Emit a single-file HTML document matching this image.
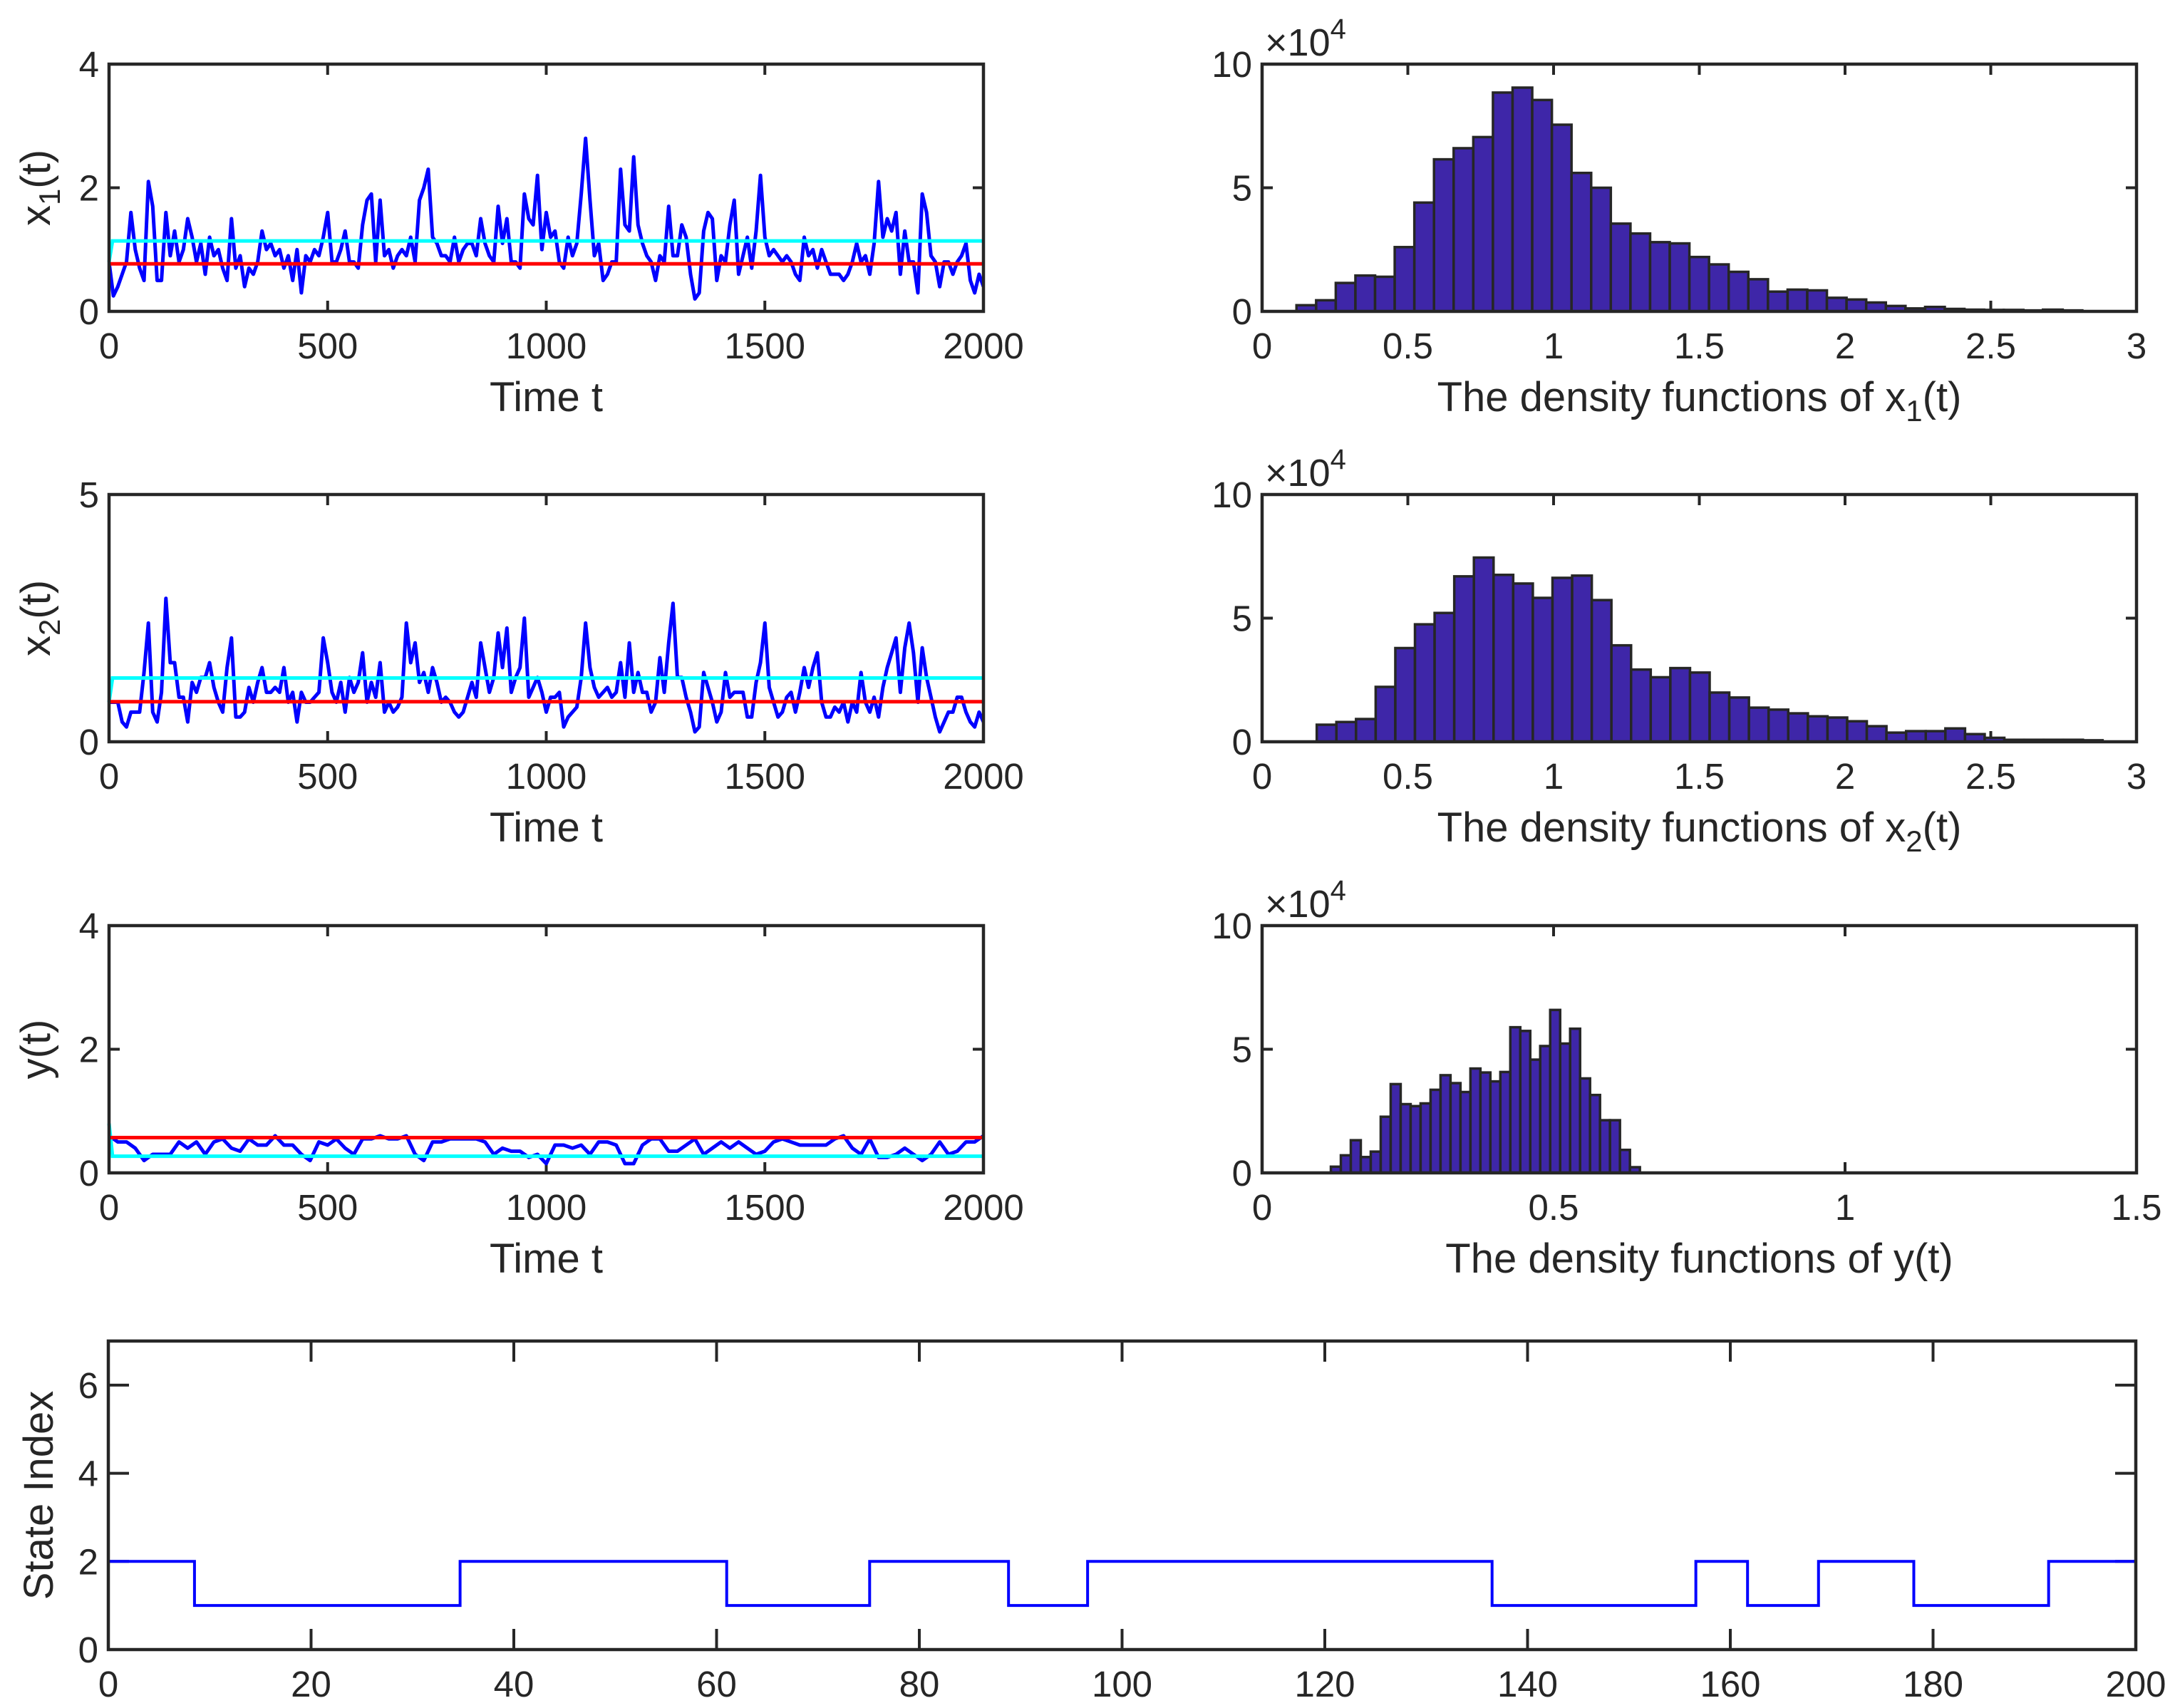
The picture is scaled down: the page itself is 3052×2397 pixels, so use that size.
<!DOCTYPE html>
<html><head><meta charset="utf-8"><style>
html,body{margin:0;padding:0;background:#fff;}
svg{display:block;font-family:"Liberation Sans",sans-serif;}
</style></head><body>
<svg id="fig" width="3052" height="2397" viewBox="0 0 3052 2397" xmlns="http://www.w3.org/2000/svg"></svg>
<script>
// ---------- data ----------
const tsStep = 10;
const x1Values = [0.8,0.25,0.4,0.6,0.8,1.6,1.0,0.7,0.5,2.1,1.7,
0.5,0.5,1.6,0.9,1.3,0.8,1.0,1.5,1.2,0.8,
1.1,0.6,1.2,0.9,1.0,0.7,0.5,1.5,0.7,0.9,
0.4,0.7,0.6,0.8,1.3,1.0,1.1,0.9,1.0,0.7,
0.9,0.5,1.0,0.3,0.9,0.8,1.0,0.9,1.2,1.6,
0.8,0.8,1.0,1.3,0.8,0.8,0.7,1.4,1.8,1.9,
0.8,1.8,0.9,1.0,0.7,0.9,1.0,0.9,1.2,0.8,
1.8,2.0,2.3,1.2,1.1,0.9,0.9,0.8,1.2,0.8,
1.0,1.1,1.1,0.9,1.5,1.1,0.9,0.8,1.7,1.1,
1.5,0.8,0.8,0.7,1.9,1.5,1.4,2.2,1.0,1.6,
1.2,1.3,0.8,0.7,1.2,0.9,1.1,1.9,2.8,1.8,
0.9,1.1,0.5,0.6,0.8,0.8,2.3,1.4,1.3,2.5,
1.4,1.1,0.9,0.8,0.5,0.9,0.8,1.7,0.9,0.9,
1.4,1.2,0.6,0.2,0.3,1.3,1.6,1.5,0.5,0.9,
0.8,1.4,1.8,0.6,0.9,1.2,0.7,1.3,2.2,1.2,
0.9,1.0,0.9,0.8,0.9,0.8,0.6,0.5,1.2,0.9,
1.0,0.7,1.0,0.8,0.6,0.6,0.6,0.5,0.6,0.8,
1.1,0.8,0.9,0.6,1.1,2.1,1.2,1.5,1.3,1.6,
0.6,1.3,0.8,0.8,0.3,1.9,1.6,0.9,0.8,0.4,
0.8,0.8,0.6,0.8,0.9,1.1,0.5,0.3,0.6,0.4];
const x2Values = [0.8,0.8,0.8,0.4,0.3,0.6,0.6,0.6,1.4,2.4,0.6,
0.4,1.0,2.9,1.6,1.6,0.9,0.9,0.4,1.2,1.0,
1.3,1.3,1.6,1.1,0.8,0.6,1.5,2.1,0.5,0.5,
0.6,1.1,0.8,1.2,1.5,1.0,1.0,1.1,1.0,1.5,
0.8,1.0,0.4,1.0,0.8,0.8,0.9,1.0,2.1,1.6,
1.0,0.8,1.2,0.6,1.3,1.0,1.2,1.8,0.8,1.2,
0.9,1.6,0.6,0.8,0.6,0.7,0.9,2.4,1.6,2.0,
1.2,1.4,1.0,1.5,1.2,0.8,0.9,0.8,0.6,0.5,
0.6,0.9,1.2,0.9,2.0,1.5,1.0,1.3,2.2,1.5,
2.3,1.0,1.3,1.5,2.5,0.9,1.1,1.3,1.0,0.6,
0.9,0.9,1.0,0.3,0.5,0.6,0.7,1.3,2.4,1.5,
1.1,0.9,1.0,1.1,0.9,1.0,1.6,0.9,2.0,1.0,
1.4,1.0,1.0,0.6,0.8,1.7,1.0,2.0,2.8,1.3,
1.3,0.9,0.6,0.2,0.3,1.4,1.1,0.8,0.4,0.6,
1.4,0.9,1.0,1.0,1.0,0.5,0.5,1.2,1.6,2.4,
1.1,0.8,0.5,0.6,0.9,1.0,0.6,1.0,1.5,1.1,
1.5,1.8,0.8,0.5,0.5,0.7,0.6,0.8,0.4,0.8,
0.6,1.4,0.8,0.6,0.9,0.5,1.1,1.5,1.8,2.1,
1.0,1.9,2.4,1.8,0.8,1.9,1.3,0.9,0.5,0.2,
0.4,0.6,0.6,0.9,0.9,0.6,0.4,0.3,0.6,0.4];
const yStep = 20;
const yValues = [0.6,0.5,0.5,0.4,0.2,0.3,0.3,0.3,0.5,0.4,0.5,0.3,0.5,0.55,0.4,0.35,0.55,0.45,0.45,0.6,
0.45,0.45,0.3,0.2,0.5,0.45,0.55,0.4,0.3,0.55,0.55,0.6,0.55,0.55,0.6,0.3,0.2,0.5,0.5,0.55,
0.55,0.55,0.55,0.5,0.3,0.4,0.35,0.35,0.25,0.3,0.15,0.45,0.45,0.4,0.45,0.3,0.5,0.5,0.45,0.15,
0.15,0.45,0.55,0.55,0.35,0.35,0.45,0.55,0.3,0.4,0.5,0.4,0.5,0.4,0.3,0.35,0.5,0.55,0.5,0.45,
0.45,0.45,0.45,0.55,0.6,0.4,0.3,0.55,0.25,0.25,0.3,0.4,0.3,0.2,0.3,0.5,0.3,0.35,0.5,0.5,0.6];
const x1Cyan = [0.8, 1.14]; const x1Red = 0.77;
const x2Cyan = [0.8, 1.29]; const x2Red = 0.81;
const yCyan = [0.8, 0.27];  const yRed = 0.57;

const h1Start = 0.118, h1Width = 0.0674;
const h1Counts = [0.25,0.45,1.15,1.45,1.4,2.6,4.4,6.15,6.6,7.05,8.85,9.05,8.55,7.55,5.6,5.0,3.55,3.15,2.8,2.75,2.2,1.9,1.6,1.3,0.8,0.88,0.85,0.55,0.48,0.36,0.22,0.12,0.18,0.1,0.07,0.06,0.06,0.04,0.07,0.04];
const h2Start = 0.1875, h2Width = 0.0674;
const h2Counts = [0.69,0.8,0.92,2.22,3.79,4.75,5.21,6.69,7.45,6.75,6.4,5.82,6.63,6.72,5.73,3.9,2.92,2.61,2.98,2.8,1.99,1.79,1.38,1.3,1.15,1.03,0.98,0.83,0.63,0.37,0.43,0.43,0.54,0.31,0.16,0.08,0.08,0.08,0.08,0.06];
const h3Start = 0.118, h3Width = 0.0171;
const h3Counts = [0.25,0.71,1.32,0.64,0.86,2.27,3.59,2.78,2.7,2.81,3.36,3.95,3.63,3.27,4.22,4.06,3.7,4.08,5.89,5.74,4.58,5.13,6.59,5.23,5.83,3.82,3.15,2.13,2.13,0.93,0.23];

const stateTimes = [0,8.5,34.7,61.0,75.1,88.8,96.6,136.5,156.6,161.7,168.7,178.1,191.4,200];
const stateValues = [2,1,2,1,2,1,2,1,2,1,2,1,2];

const tsXTicks = [0,500,1000,1500,2000];
const h12XTicks = ["0","0.5","1","1.5","2","2.5","3"];
const h3XTicks = ["0","0.5","1","1.5"];
const histYTicks = [0,5,10];
const stateXTicks = [0,20,40,60,80,100,120,140,160,180,200];
const stateYTicks = [0,2,4,6];

// ---------- drawing ----------
const NS = "http://www.w3.org/2000/svg";
const svg = document.getElementById("fig");
const INK = "#262626";
function mk(tag, attrs, parent){ const e=document.createElementNS(NS,tag); for(const k in attrs) e.setAttribute(k,attrs[k]); (parent||svg).appendChild(e); return e; }
function txt(str, x, y, size, anchor, parent){ const t=mk("text",{x:x,y:y,"font-size":size,"text-anchor":anchor,fill:INK},parent); t.textContent=str; return t; }

function axesFrame(g, L, T, W, H, xTicks, xmin, xmax, yTicks, ymin, ymax, tl, xLabels){
  const X=v=>L+(v-xmin)/(xmax-xmin)*W, Y=v=>T+H-(v-ymin)/(ymax-ymin)*H;
  xTicks.forEach((v,i)=>{
    const xv=X(+v);
    const tk=mk("path",{d:`M${xv},${T+H}v${-tl}M${xv},${T}v${tl}`,stroke:INK,"stroke-width":4,fill:"none"},g);
    
    
    const lb=txt(xLabels?xLabels[i]:String(v), xv, T+H+66, 51, "middle", g);
    
    
  });
  yTicks.forEach(v=>{
    const yv=Y(v);
    const tk=mk("path",{d:`M${L},${yv}h${tl}M${L+W},${yv}h${-tl}`,stroke:INK,"stroke-width":4,fill:"none"},g);
    
    
    const lb=txt(String(v), L-14, yv+18, 51, "end", g);
    
    
  });
  return {X,Y};
}
function box(g,L,T,W,H){
  const r=mk("rect",{x:L,y:T,width:W,height:H,fill:"none",stroke:INK,"stroke-width":4.5},g);
  
  
}
function yTitle(g, cx, cy, main, sub, rest){
  const t=mk("text",{x:0,y:0,"font-size":58,"text-anchor":"middle",fill:INK,transform:`translate(${cx+20},${cy}) rotate(-90)`},g);
  
  
  const a=mk("tspan",{},t); a.textContent=main;
  if(sub){ const s=mk("tspan",{"font-size":42,dy:14},t); s.textContent=sub; const r=mk("tspan",{dy:-14},t); r.textContent=rest; }
}

const tsL=153, tsW=1227, tsH=347, rowT=[90,694,1299];
const hL=1771, hW=1227;

function tsPanel(name, T, vals, step, ymax, yTicks, cyan, red, label, sub, rest){
  const g=mk("g",{});
  
  
  const {X,Y}=axesFrame(g,tsL,T,tsW,tsH,tsXTicks,0,2000,yTicks,0,ymax,15);
  const clipId=name+"-clip";
  const cp=mk("clipPath",{id:clipId},g); mk("rect",{x:tsL,y:T,width:tsW,height:tsH},cp);
  const pts=vals.map((v,i)=>`${X(i*step).toFixed(1)},${Y(v).toFixed(1)}`).join(" ");
  const ln=mk("polyline",{points:pts,fill:"none",stroke:"#0000ff","stroke-width":5,"stroke-linejoin":"round","clip-path":`url(#${clipId})`},g);
  
  
  const cl=mk("polyline",{points:`${X(0)},${Y(cyan[0])} ${X(8)},${Y(cyan[1])} ${X(2000)},${Y(cyan[1])}`,fill:"none",stroke:"#00ffff","stroke-width":5},g);
  
  
  const rl=mk("line",{x1:X(0),y1:Y(red),x2:X(2000),y2:Y(red),stroke:"#ff0000","stroke-width":5},g);
  
  
  box(g,tsL,T,tsW,tsH);
  const xt=txt("Time t", tsL+tsW/2, T+tsH+140, 58, "middle", g);
  
  
  yTitle(g, 50, T+tsH/2, label, sub, rest);
}
tsPanel("x1-time-series", rowT[0], x1Values, tsStep, 4, [0,2,4], x1Cyan, x1Red, "x", "1", "(t)");
tsPanel("x2-time-series", rowT[1], x2Values, tsStep, 5, [0,5], x2Cyan, x2Red, "x", "2", "(t)");
tsPanel("y-time-series", rowT[2], yValues, yStep, 4, [0,2,4], yCyan, yRed, "y(t)", null, null);

function histPanel(name, T, start, width, counts, xmax, xTickLabels, title, sub, rest){
  const g=mk("g",{});
  
  
  const {X,Y}=axesFrame(g,hL,T,hW,tsH,xTickLabels,0,xmax,histYTicks,0,10,15,xTickLabels);
  counts.forEach((c,i)=>{
    const x0=X(start+i*width), x1=X(start+(i+1)*width);
    const r=mk("rect",{x:x0,y:Y(c),width:x1-x0,height:Y(0)-Y(c),fill:"#3e26a8",stroke:INK,"stroke-width":3.5},g);
    
    
  });
  box(g,hL,T,hW,tsH);
  const ex=mk("text",{x:hL+4,y:T-12,"font-size":54,fill:INK},g);
  
  
  const e1=mk("tspan",{},ex); e1.textContent="×10";
  const e2=mk("tspan",{"font-size":40,dy:-24},ex); e2.textContent="4";
  const xt=mk("text",{x:hL+hW/2,y:T+tsH+140,"font-size":58,"text-anchor":"middle",fill:INK},g);
  
  
  const a=mk("tspan",{},xt); a.textContent=title;
  if(sub){ const s=mk("tspan",{"font-size":42,dy:14},xt); s.textContent=sub; const r=mk("tspan",{dy:-14},xt); r.textContent=rest; }
}
histPanel("x1-density-histogram", rowT[0], h1Start, h1Width, h1Counts, 3, h12XTicks, "The density functions of x", "1", "(t)");
histPanel("x2-density-histogram", rowT[1], h2Start, h2Width, h2Counts, 3, h12XTicks, "The density functions of x", "2", "(t)");
histPanel("y-density-histogram", rowT[2], h3Start, h3Width, h3Counts, 1.5, h3XTicks, "The density functions of y(t)", null, null);

(function(){
  const L=152,T=1882,W=2845,H=433;
  const g=mk("g",{});
  
  
  const {X,Y}=axesFrame(g,L,T,W,H,stateXTicks,0,200,stateYTicks,0,7,29);
  let d=`M${X(stateTimes[0])},${Y(stateValues[0])}`;
  stateValues.forEach((v,i)=>{ d+=`H${X(stateTimes[i+1])}`; if(i+1<stateValues.length) d+=`V${Y(stateValues[i+1])}`; });
  const p=mk("path",{d:d,fill:"none",stroke:"#0000ff","stroke-width":4},g);
  
  
  box(g,L,T,W,H);
  yTitle(g, 54, T+H/2, "State Index", null, null);
})();
</script>
</body></html>
